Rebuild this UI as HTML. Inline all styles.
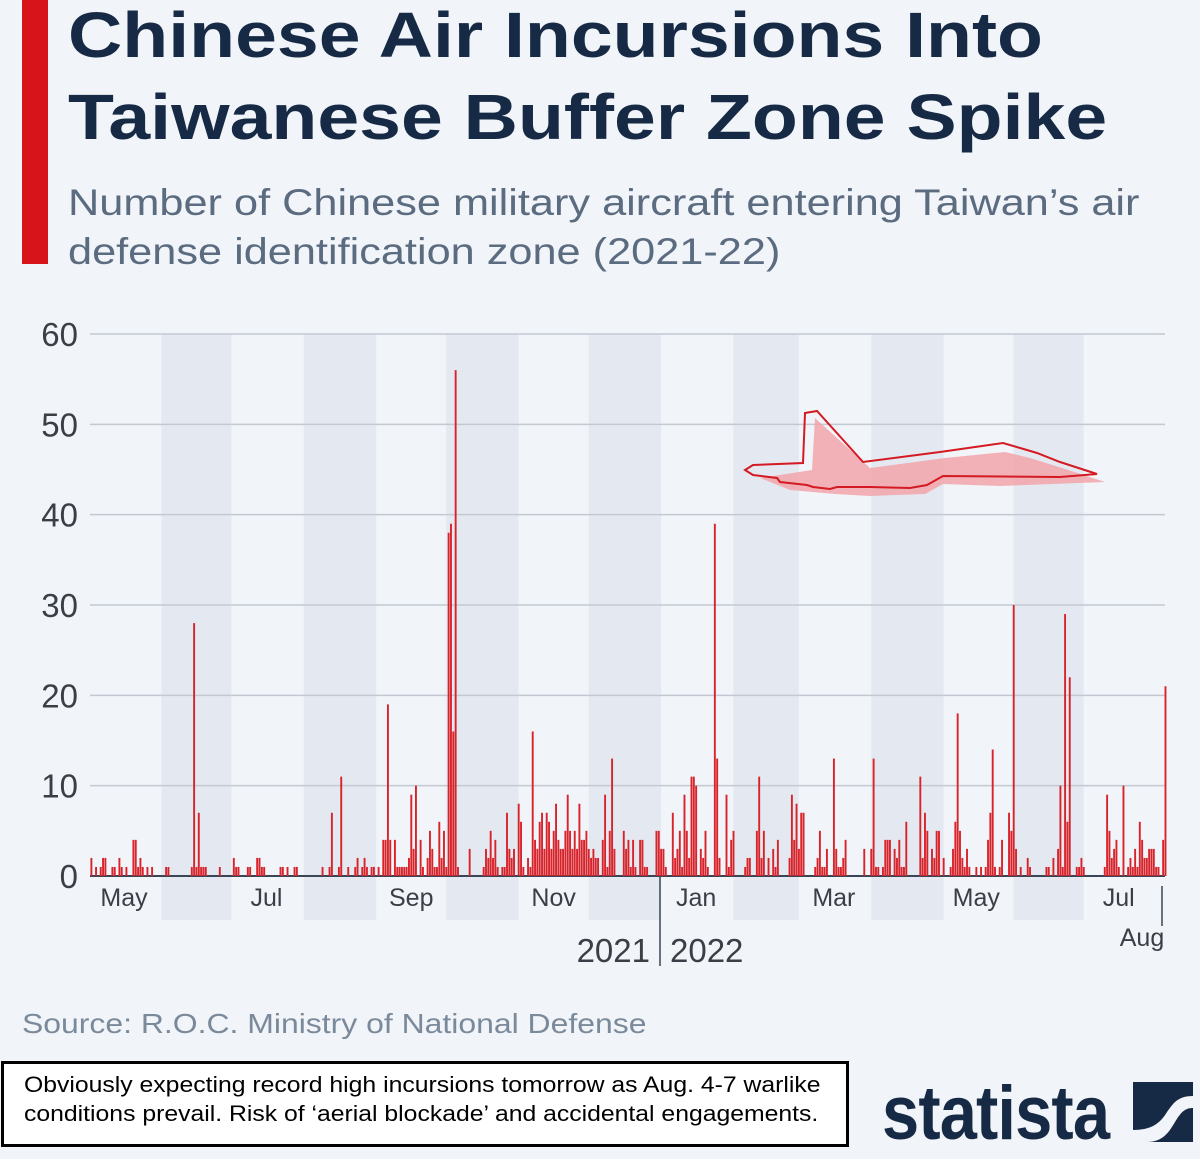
<!DOCTYPE html>
<html><head><meta charset="utf-8">
<style>
html,body{margin:0;padding:0;background:#f1f4f8;width:1200px;height:1159px;overflow:hidden;font-family:"Liberation Sans",sans-serif}
#wrap{position:relative;width:1200px;height:1159px}
.t{position:absolute;white-space:nowrap;transform-origin:0 0}
</style></head><body>
<div id="wrap">
<div class="t" style="left:22px;top:0;width:26px;height:264px;background:#d7141a"></div>
<div class="t" style="left:68px;top:-6px;font-size:64px;font-weight:bold;color:#172a45;line-height:82px;transform:scaleX(1.175)">Chinese Air Incursions Into<br>Taiwanese Buffer Zone Spike</div>
<div class="t" style="left:68px;top:178px;font-size:37px;color:#5b6b80;line-height:49px;transform:scaleX(1.17)">Number of Chinese military aircraft entering Taiwan’s air<br>defense identification zone (2021-22)</div>
<svg id="chart" width="1200" height="1000" style="position:absolute;left:0;top:0"></svg>
<div class="t" style="left:22px;top:1008px;font-size:28px;color:#7b8a9a;transform:scaleX(1.14)">Source: R.O.C. Ministry of National Defense</div>
<div class="t" style="left:1px;top:1061px;border:3px solid #000;background:#fff;width:848px;height:86px;box-sizing:border-box"></div>
<div class="t" style="left:24px;top:1070px;font-size:22.5px;color:#000;line-height:29px;transform:scaleX(1.1)">Obviously expecting record high incursions tomorrow as Aug. 4-7 warlike<br>conditions prevail. Risk of ‘aerial blockade’ and accidental engagements.</div>
<div class="t" style="left:882px;top:1070px;font-size:76px;font-weight:bold;color:#172a45;letter-spacing:-1px;transform:scaleX(0.88)">statista</div>
<svg class="t" style="left:1133px;top:1082px" width="60" height="60" viewBox="0 0 60 60"><path d="M0 0H60V14C44 14 40 22 34 30C28 40 20 48 0 48Z M14 60C30 60 36 50 42 40C48 30 52 26 60 26V60Z" fill="#172a45"/></svg>
</div>
<script>
const yTicks=[0,10,20,30,40,50,60];
const monthLabels=["May","Jul","Sep","Nov","Jan","Mar","May","Jul"];
const monthLabelDays=[15,76,138,199,260,319,380,441];
const bandStarts=[31,92,153,214,276,335,396];
const bandEnds=[61,123,184,245,304,366,426];
const days=[1,3,5,6,7,10,11,13,14,16,19,20,21,22,23,25,27,33,34,44,45,46,47,48,49,50,56,62,63,64,68,69,72,73,74,75,82,83,85,88,89,100,103,104,107,108,111,114,115,117,118,119,121,122,124,126,127,128,129,131,132,133,134,135,136,137,138,139,140,142,143,145,146,147,148,149,150,151,152,153,154,155,156,157,158,163,169,170,171,172,173,174,175,177,178,179,180,181,182,184,185,186,188,189,190,191,192,193,194,195,196,197,198,199,200,201,202,203,204,205,206,207,208,209,210,211,212,213,214,215,216,217,218,220,221,222,223,224,225,229,230,231,232,233,234,236,237,238,239,243,244,245,246,247,250,251,252,253,254,255,256,257,258,259,260,262,263,264,265,268,269,270,273,274,275,276,281,282,283,286,287,288,289,291,293,294,295,300,301,302,303,304,305,306,311,312,313,314,315,316,319,320,321,322,323,324,332,335,336,337,338,340,341,342,343,345,346,347,348,349,350,356,357,358,359,361,362,363,364,366,369,370,371,372,373,374,375,376,377,380,382,384,385,386,387,388,390,391,394,395,396,397,399,402,403,410,411,413,415,416,417,418,419,420,423,424,425,426,435,436,437,438,439,440,441,443,445,446,447,448,449,450,451,452,453,454,455,456,457,458,460,461];
const values=[2,1,1,2,2,1,1,2,1,1,4,4,1,2,1,1,1,1,1,1,28,1,7,1,1,1,1,2,1,1,1,1,2,2,1,1,1,1,1,1,1,1,1,7,1,11,1,1,2,1,2,1,1,1,1,4,4,19,4,4,1,1,1,1,1,2,9,3,10,4,1,2,5,3,1,1,6,2,5,1,38,39,16,56,1,3,1,3,2,5,2,4,1,1,1,7,3,2,3,8,6,1,2,1,16,4,3,6,7,3,7,6,3,5,8,4,3,3,5,9,5,3,5,3,8,4,4,5,3,2,3,2,2,4,9,1,5,13,3,5,3,4,1,4,1,4,4,1,1,5,5,3,3,1,7,2,3,5,1,9,5,2,11,11,10,3,2,5,1,39,13,2,9,1,4,5,1,2,2,5,11,2,5,2,3,1,4,2,9,4,8,3,7,7,1,2,5,1,1,3,13,3,1,1,2,4,3,3,13,1,1,1,4,4,4,3,2,4,1,1,6,11,2,7,5,3,2,5,5,2,1,3,6,18,5,2,1,3,1,1,1,1,4,7,14,1,1,4,7,5,30,3,1,2,1,1,1,2,3,10,1,29,6,22,1,1,2,1,1,9,5,2,3,4,1,10,1,2,1,3,1,6,4,2,2,3,3,3,1,1,4,21];
const NS='http://www.w3.org/2000/svg';
const svg=document.getElementById('chart');
const X0=89,PX=2.335,Y0=876,PY=9.033;
function xs(d){return X0+d*PX;}
function ys(v){return Y0-v*PY;}
function mk(tag,attrs,parent){const e=document.createElementNS(NS,tag);for(const k in attrs)e.setAttribute(k,attrs[k]);(parent||svg).appendChild(e);return e;}
bandStarts.forEach((s,i)=>{
 const r=mk('rect',{x:xs(s),y:334,width:xs(bandEnds[i])-xs(s),height:586,fill:'#e4e9f1'});
 
 
});
yTicks.forEach(v=>{
 const l=mk('line',{x1:90,x2:1165,y1:ys(v),y2:ys(v),stroke:v===0?'#3a4656':'#c3c9d2','stroke-width':v===0?2:1.5});
 
 
 const t=mk('text',{x:78,y:ys(v)+12,'text-anchor':'end','font-size':33,fill:'#3a3f47','font-family':'Liberation Sans, sans-serif'});
 t.textContent=v;
 
 
});
const pl=mk('g',{});


mk('path',{d:'M760 478L812 470L815 418L870 468L945 458L1005 452L1030 458L1062 468L1105 482L1000 486L943 484L925 494L870 496L835 494L790 490Z',fill:'#f2a5aa',opacity:0.85},pl);
mk('path',{d:'M745 470L753 465L803 463L805 413L817 411L863 462L940 452L1003 443L1027 450L1037 453L1060 462L1097 474L1060 477L943 476L927 485L910 488L870 487L837 487L830 489L813 487L807 485L780 482L777 478L753 475Z',fill:'none',stroke:'#d41a22','stroke-width':2},pl);
days.forEach((d,i)=>{
 const b=mk('rect',{x:xs(d)-0.9,y:ys(values[i]),width:1.9,height:values[i]*PY,fill:'#d8232a'});
 
 
});
monthLabels.forEach((m,i)=>{
 const t=mk('text',{x:xs(monthLabelDays[i]),y:906,'text-anchor':'middle','font-size':25,fill:'#3a3f47','font-family':'Liberation Sans, sans-serif'});
 t.textContent=m;
 
 
});
const sep=mk('line',{x1:660,x2:660,y1:876,y2:966,stroke:'#3a4656','stroke-width':1.5});


const tk=mk('line',{x1:1162,x2:1162,y1:886,y2:926,stroke:'#3a4656','stroke-width':1.5});


[['2021',650,'end'],['2022',670,'start']].forEach(a=>{
 const t=mk('text',{x:a[1],y:962,'text-anchor':a[2],'font-size':33,fill:'#3a3f47','font-family':'Liberation Sans, sans-serif'});
 t.textContent=a[0];
 
 
});
const ag=mk('text',{x:1142,y:946,'text-anchor':'middle','font-size':25,fill:'#3a3f47','font-family':'Liberation Sans, sans-serif'});
ag.textContent='Aug';


</script>
</body></html>
